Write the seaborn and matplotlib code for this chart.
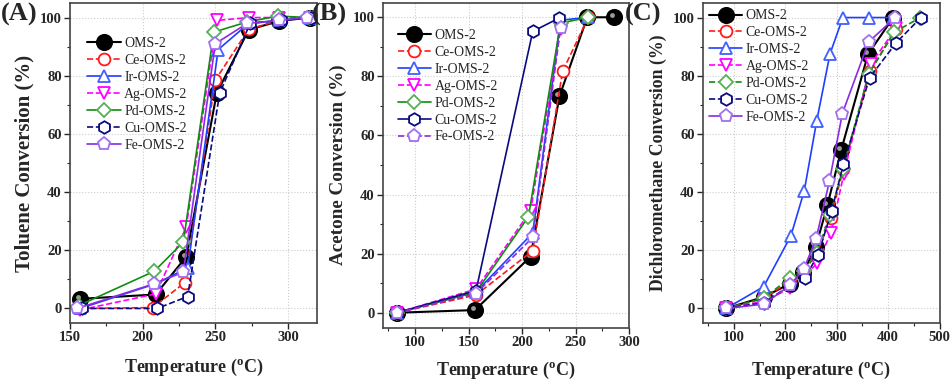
import matplotlib
matplotlib.use("Agg")
import matplotlib.pyplot as plt
import matplotlib.transforms as mtransforms
import seaborn as sns
from matplotlib.ticker import MultipleLocator

# catalysts (legend order)
catalysts = ["OMS-2", "Ce-OMS-2", "Ir-OMS-2", "Ag-OMS-2", "Pd-OMS-2", "Cu-OMS-2", "Fe-OMS-2"]

# (A) toluene
tol_x = {
    "OMS-2":    [157, 209, 230, 251, 273, 294, 315],
    "Ce-OMS-2": [156, 207, 229, 250, 273, 294, 315],
    "Ir-OMS-2": [157, 209, 231, 252, 273, 294, 315],
    "Ag-OMS-2": [157, 209, 230, 251, 273, 294, 315],
    "Pd-OMS-2": [156, 208, 228, 249, 272, 293, 315],
    "Cu-OMS-2": [158, 210, 231, 253, 274, 295, 316],
    "Fe-OMS-2": [155, 208, 228, 250, 272, 294, 313],
}
tol_y = {
    "OMS-2":    [3.3, 4.8, 17.8, 74, 95.8, 98.8, 100],
    "Ce-OMS-2": [0, 0.3, 8.9, 78.5, 96, 99, 100],
    "Ir-OMS-2": [0, 8.5, 14, 89, 98, 99, 100],
    "Ag-OMS-2": [-0.5, 5, 28, 99, 100, 100, 100],
    "Pd-OMS-2": [1, 12.8, 22.8, 95, 98.5, 100.5, 100],
    "Cu-OMS-2": [0, 0, 4.1, 74, 98, 99, 100],
    "Fe-OMS-2": [0, 8.5, 12.5, 91, 98, 99, 100],
}

# (B) acetone
ace_x = {
    "OMS-2":    [83, 156, 208, 235, 261, 286],
    "Ce-OMS-2": [83, 157, 210, 238, 262],
    "Ir-OMS-2": [83, 157, 210, 236, 262],
    "Ag-OMS-2": [83, 157, 208, 236],
    "Pd-OMS-2": [83, 157, 206, 236, 262],
    "Cu-OMS-2": [83, 157, 210, 235],
    "Fe-OMS-2": [83, 157, 210, 236],
}
ace_y = {
    "OMS-2":    [0, 0.9, 19, 73.3, 100, 100],
    "Ce-OMS-2": [0, 6, 21, 81.8, 100],
    "Ir-OMS-2": [0, 7, 27, 99, 100],
    "Ag-OMS-2": [0, 8, 34.5, 96],
    "Pd-OMS-2": [0, 7, 32.5, 98, 100],
    "Cu-OMS-2": [0, 7.5, 95.2, 99.8],
    "Fe-OMS-2": [0, 6.5, 25.5, 96.5],
}

# (C) dichloromethane
dcm_x = {
    "OMS-2":    [85, 159, 209, 235, 259, 282, 309, 361, 410],
    "Ce-OMS-2": [85, 159, 210, 237, 262, 288, 313, 365, 415],
    "Ir-OMS-2": [85, 158, 211, 237, 261, 287, 312, 362, 410],
    "Ag-OMS-2": [85, 159, 210, 236, 262, 289, 314, 366, 416],
    "Pd-OMS-2": [85, 158, 209, 236, 261, 287, 312, 362, 412, 463],
    "Cu-OMS-2": [85, 159, 210, 238, 264, 290, 313, 364, 416, 464],
    "Fe-OMS-2": [85, 159, 209, 236, 260, 286, 311, 362, 414],
}
dcm_y = {
    "OMS-2":    [0, 4, 8.5, 12.5, 21, 35.5, 54.6, 87.4, 100],
    "Ce-OMS-2": [0, 3.5, 9.5, 13, 19, 31, 48, 81.5, 96],
    "Ir-OMS-2": [0, 7.5, 25, 40.5, 64.3, 87.5, 100, 100, 100],
    "Ag-OMS-2": [0, 2.5, 7, 11, 15.5, 26, 46.3, 84, 96.4],
    "Pd-OMS-2": [0, 3.5, 10.5, 13, 19, 32, 48, 80.5, 95, 100],
    "Cu-OMS-2": [0, 2, 8, 10.5, 18.5, 33.4, 49.5, 79.3, 91.4, 100],
    "Fe-OMS-2": [0, 1.5, 8, 13.5, 24, 43.8, 67, 91.6, 100],
}

colors = {"OMS-2": "black", "Ce-OMS-2": "#ff1a1a", "Ir-OMS-2": "#1f3fff",
          "Ag-OMS-2": "#ff00ff", "Pd-OMS-2": "#118c11", "Cu-OMS-2": "#0a0a80",
          "Fe-OMS-2": "#8a2be2"}
markers = {"OMS-2": "o", "Ce-OMS-2": "o", "Ir-OMS-2": "^", "Ag-OMS-2": "v",
           "Pd-OMS-2": "D", "Cu-OMS-2": "h", "Fe-OMS-2": "p"}
msizes = {"OMS-2": 11, "Ce-OMS-2": 8.5, "Ir-OMS-2": 8.5, "Ag-OMS-2": 9,
          "Pd-OMS-2": 7, "Cu-OMS-2": 9, "Fe-OMS-2": 9.5}
mec = {"Fe-OMS-2": "#a070f0", "Pd-OMS-2": "#55b055", "Ir-OMS-2": "#4060ff"}

dash_a = {"OMS-2": "-", "Ce-OMS-2": "--", "Ir-OMS-2": "-", "Ag-OMS-2": "--",
          "Pd-OMS-2": "-", "Cu-OMS-2": "--", "Fe-OMS-2": "-"}
dash_b = {"OMS-2": "-", "Ce-OMS-2": "--", "Ir-OMS-2": "-", "Ag-OMS-2": "--",
          "Pd-OMS-2": "-", "Cu-OMS-2": "-", "Fe-OMS-2": "--"}
dash_c = {"OMS-2": "-", "Ce-OMS-2": "--", "Ir-OMS-2": "-", "Ag-OMS-2": "--",
          "Pd-OMS-2": "--", "Cu-OMS-2": "--", "Fe-OMS-2": "-"}

sns.set_style("white")
plt.rcParams["font.family"] = ["Liberation Serif", "DejaVu Serif"]
plt.rcParams["mathtext.fontset"] = "custom"
plt.rcParams["mathtext.rm"] = "Liberation Serif"
plt.rcParams["mathtext.bf"] = "Liberation Serif:bold"

fig = plt.figure(figsize=(9.52, 3.82), dpi=100)
W, H = 952.0, 382.0


def make_ax(l, r, t, b):
    return fig.add_axes([l / W, 1 - b / H, (r - l) / W, (b - t) / H])


def draw(ax, xs, ys, dashes, xlim, xmaj, xmin, ylabel, ysize, xpad, leg_anchor):
    for c in catalysts:
        col = colors[c]
        sns.lineplot(x=xs[c], y=ys[c], ax=ax, sort=False, estimator=None,
                     color=col, linestyle=dashes[c], lw=1.5 if c == "OMS-2" else 1.2,
                     marker=markers[c], markersize=msizes[c],
                     markerfacecolor="black" if c == "OMS-2" else "white",
                     markeredgecolor=mec.get(c, col), markeredgewidth=1.3,
                     label=c)
        if c == "OMS-2":
            # little glint on the black balls
            off = mtransforms.ScaledTranslation(-1.5 / 72, 1.5 / 72, fig.dpi_scale_trans)
            ax.plot(xs[c], ys[c], ls="none", marker="o", ms=3.5, color="#9a9a9a",
                    mec="none", transform=ax.transData + off, label="_nolegend_")
    ax.set_xlim(*xlim)
    ax.set_ylim(-5, 105)
    ax.xaxis.set_major_locator(MultipleLocator(xmaj))
    ax.xaxis.set_minor_locator(MultipleLocator(xmin))
    ax.yaxis.set_major_locator(MultipleLocator(20))
    ax.yaxis.set_minor_locator(MultipleLocator(10))
    ax.grid(True, which="major", color="#cccccc", linestyle=":", lw=0.8)
    ax.tick_params(which="major", direction="out", length=4, width=1,
                   bottom=True, left=True, labelsize=10.5, pad=2)
    ax.tick_params(which="minor", direction="out", length=2.5, width=0.8,
                   bottom=True, left=True)
    for lab in ax.get_xticklabels() + ax.get_yticklabels():
        lab.set_fontweight("bold")
    for sp in ax.spines.values():
        sp.set_color("#444444")
        sp.set_linewidth(1.2)
    ax.set_xlabel(r"Temperature ($\mathbf{^{o}}$C)", fontsize=13, fontweight="bold",
                  labelpad=xpad)
    ax.set_ylabel(ylabel, fontsize=ysize, fontweight="bold", labelpad=4)
    ax.legend(loc="upper left", bbox_to_anchor=leg_anchor, frameon=False,
              fontsize=10, handlelength=2.4, handletextpad=0.25,
              labelspacing=0.28, borderpad=0, borderaxespad=0)


axA = make_ax(70, 317, 3, 323)
draw(axA, tol_x, tol_y, dash_a, (150, 320), 50, 25, "Toluene Conversion (%)",
     15, 9, (0.07, 0.893))
axB = make_ax(383, 629, 2.5, 327.5)
draw(axB, ace_x, ace_y, dash_b, (70, 300), 50, 25, "Acetone Conversion (%)",
     13.8, 8, (0.06, 0.918))
axC = make_ax(703, 939.5, 3, 323)
draw(axC, dcm_x, dcm_y, dash_c, (40, 500), 100, 50, "Dichloromethane Conversion (%)",
     12.8, 11, (0.025, 0.98))

fig.text(1 / W, 1 - 3 / H, "(A)", fontsize=19, fontweight="bold", va="top", ha="left")
fig.text(312 / W, 1 - 3 / H, "(B)", fontsize=19, fontweight="bold", va="top", ha="left")
fig.text(625 / W, 1 - 3 / H, "(C)", fontsize=19, fontweight="bold", va="top", ha="left")

fig.savefig("out.png", dpi=100)
